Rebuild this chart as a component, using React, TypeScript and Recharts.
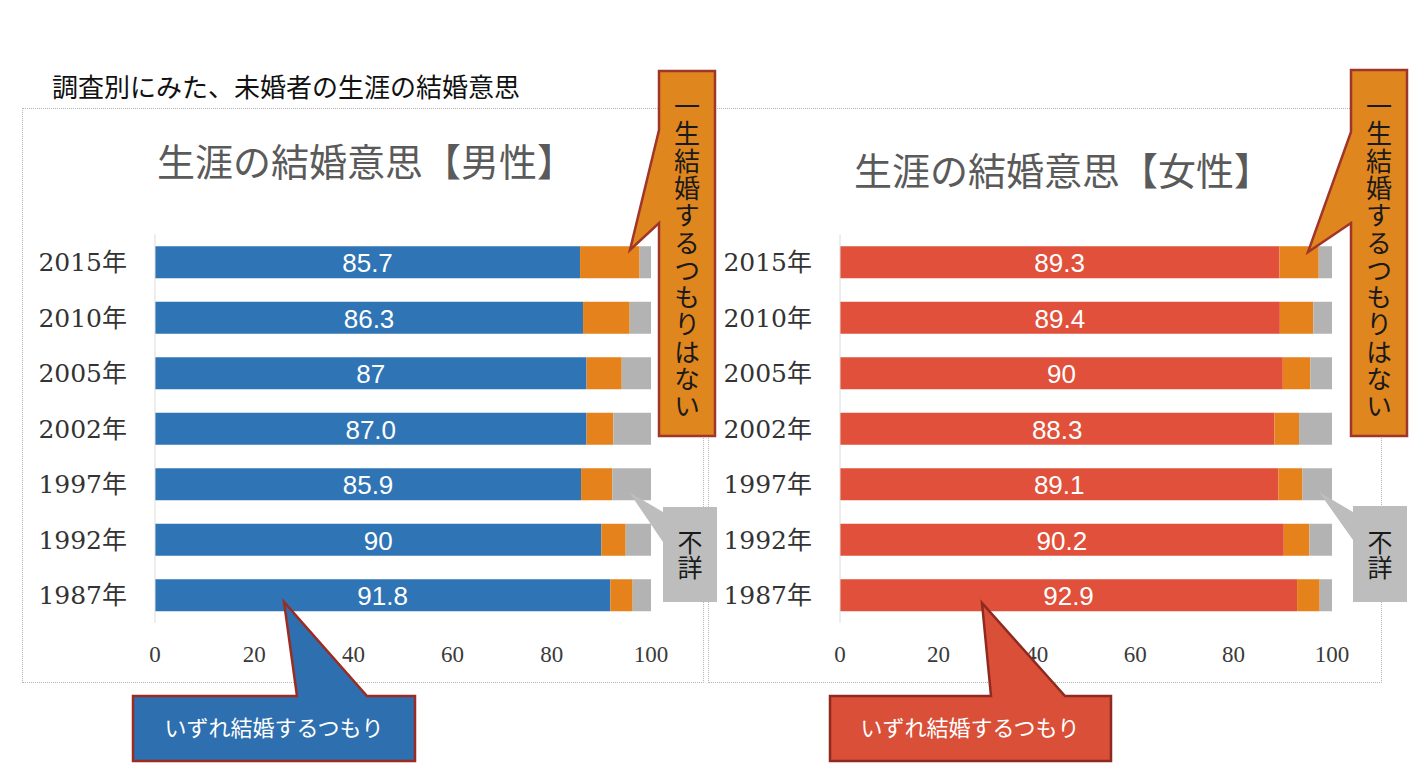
import React from 'react';
import { BarChart, Bar, XAxis, YAxis, LabelList } from 'recharts';

// ---- data ----
const years = ['2015年', '2010年', '2005年', '2002年', '1997年', '1992年', '1987年'];
const xTicks = [0, 20, 40, 60, 80, 100];

const maleWill = [85.7, 86.3, 87.0, 87.0, 85.9, 90.0, 91.8];
const maleNever = [12.0, 9.4, 7.1, 5.4, 6.3, 4.9, 4.5];
const maleUnknown = [2.3, 4.3, 5.9, 7.6, 7.8, 5.1, 3.7];
const maleLabels = ['85.7', '86.3', '87', '87.0', '85.9', '90', '91.8'];

const femaleWill = [89.3, 89.4, 90.0, 88.3, 89.1, 90.2, 92.9];
const femaleNever = [8.0, 6.8, 5.6, 5.0, 4.9, 5.2, 4.6];
const femaleUnknown = [2.7, 3.8, 4.4, 6.7, 6.0, 4.6, 2.5];
const femaleLabels = ['89.3', '89.4', '90', '88.3', '89.1', '90.2', '92.9'];

const mainTitle = '調査別にみた、未婚者の生涯の結婚意思';
const maleTitle = '生涯の結婚意思【男性】';
const femaleTitle = '生涯の結婚意思【女性】';
const neverText = '一生結婚するつもりはない';
const unknownText = '不詳';
const willText = 'いずれ結婚するつもり';

const buildRows = (will: number[], never: number[], unknown: number[], labels: string[]) =>
  years.map((year, i) => ({ year, will: will[i], never: never[i], unknown: unknown[i], label: labels[i] }));

const maleRows = buildRows(maleWill, maleNever, maleUnknown, maleLabels);
const femaleRows = buildRows(femaleWill, femaleNever, femaleUnknown, femaleLabels);

const BLUE = '#2F74B5';
const RED = '#E0503A';
const ORANGE = '#E5821C';
const GRAY = '#B3B3B3';
const CJK = "'Noto Sans CJK JP', 'Noto Sans', sans-serif";

const YTick = (props: any) => {
  const { x, y, payload } = props;
  return (
    <text x={x} y={y} dy={9} textAnchor="end" fill="#333" fontSize={25}
      fontFamily="'DejaVu Serif', 'Noto Sans CJK JP', serif">
      {payload.value}
    </text>
  );
};

const XTick = (props: any) => {
  const { x, y, payload } = props;
  return (
    <text x={x} y={y} dy={39} textAnchor="middle" fill="#3a3a3a" fontSize={23}
      fontFamily="'Liberation Serif', serif">
      {payload.value}
    </text>
  );
};

const BarLabel = (props: any) => {
  const { x, y, width, height, value } = props;
  return (
    <text x={x + width / 2} y={y + height / 2 + 10} textAnchor="middle" fill="#fff"
      fontSize={26} fontFamily="'Liberation Sans', Arial, sans-serif">
      {value}
    </text>
  );
};

const Panel = ({ rows, left, yAxisWidth, marginRight, mainColor }: any) => (
  <div style={{ position: 'absolute', left, top: 0 }}>
    <BarChart width={700} height={700} data={rows} layout="vertical"
      margin={{ top: 234.25, right: marginRight, bottom: 37.25, left: 0 }}>
      <XAxis type="number" domain={[0, 100]} ticks={xTicks} interval={0}
        axisLine={false} tickLine={false} tickSize={0} tickMargin={0} height={40} tick={<XTick />} />
      <YAxis type="category" dataKey="year" width={yAxisWidth} interval={0}
        axisLine={{ stroke: '#dcdcdc' }} tickLine={false} tickSize={0} tickMargin={28} tick={<YTick />} />
      <Bar dataKey="will" stackId="a" fill={mainColor} barSize={32} isAnimationActive={false}>
        <LabelList dataKey="label" content={<BarLabel />} isAnimationActive={false} />
      </Bar>
      <Bar dataKey="never" stackId="a" fill={ORANGE} barSize={32} isAnimationActive={false} />
      <Bar dataKey="unknown" stackId="a" fill={GRAY} barSize={32} isAnimationActive={false} />
    </BarChart>
  </div>
);

const VerticalText = ({ text, x, yMid, fs, spacing, fill }: any) => (
  <text x={x} y={yMid} textAnchor="middle" fontSize={fs} fill={fill} fontFamily={CJK}
    style={{ writingMode: 'vertical-rl', letterSpacing: spacing } as any}>
    {text}
  </text>
);

export default function App() {
  return (
    <div style={{ position: 'absolute', left: 0, top: 0, width: 1416, height: 776, background: '#fff', overflow: 'hidden', fontFamily: CJK }}>
      {/* panel frames */}
      <div style={{ position: 'absolute', left: 22, top: 108, width: 682, height: 575, border: '1px dotted #b5b5b5', boxSizing: 'border-box' }} />
      <div style={{ position: 'absolute', left: 708, top: 108, width: 674, height: 575, border: '1px dotted #b5b5b5', boxSizing: 'border-box' }} />

      <Panel rows={maleRows} left={0} yAxisWidth={155} marginRight={49} mainColor={BLUE} />
      <Panel rows={femaleRows} left={700} yAxisWidth={140} marginRight={68} mainColor={RED} />

      <svg width={1416} height={776} style={{ position: 'absolute', left: 0, top: 0, pointerEvents: 'none' }}>
        <text x={52} y={97} fontSize={26} fill="#111" fontFamily={CJK}>{mainTitle}</text>
        <text x={157} y={176} fontSize={38} fill="#5a5a5a" fontFamily={CJK}>{maleTitle}</text>
        <text x={854} y={185} fontSize={38} fill="#5a5a5a" fontFamily={CJK}>{femaleTitle}</text>

        {/* never callouts */}
        <polygon points="659,71 715,71 715,436 659,436 659,223 630,250 659,130"
          fill="#E0861E" stroke="#A0352A" strokeWidth={2.5} strokeLinejoin="miter" />
        <polygon points="1351,70 1407,70 1407,436 1351,436 1351,223 1308,252 1351,132"
          fill="#E0861E" stroke="#A0352A" strokeWidth={2.5} strokeLinejoin="miter" />
        <VerticalText text={neverText} x={687} yMid={257} fs={26} spacing={1.3} fill="#1a1a1a" />
        <VerticalText text={neverText} x={1379} yMid={257} fs={26} spacing={1.3} fill="#1a1a1a" />

        {/* unknown callouts */}
        <polygon points="663,507 717,507 717,602 663,602 663,542 629,492 663,512" fill="#BDBDBD" />
        <polygon points="1353,506 1407,506 1407,602 1353,602 1353,540 1319,492 1353,512" fill="#BDBDBD" />
        <VerticalText text={unknownText} x={690} yMid={555} fs={25} spacing={0} fill="#1a1a1a" />
        <VerticalText text={unknownText} x={1380} yMid={555} fs={25} spacing={0} fill="#1a1a1a" />

        {/* will callouts */}
        <polygon points="133,696 297,696 284,602 367,696 415,696 415,761 133,761"
          fill="#2E6FAF" stroke="#9C2B22" strokeWidth={2.5} />
        <polygon points="830,696 991,696 982,603 1065,696 1111,696 1111,761 830,761"
          fill="#D94F38" stroke="#8E2A20" strokeWidth={2.5} />
        <text x={274} y={736} textAnchor="middle" fontSize={22} fill="#fff" fontFamily={CJK}>{willText}</text>
        <text x={970} y={736} textAnchor="middle" fontSize={22} fill="#fff" fontFamily={CJK}>{willText}</text>
      </svg>
    </div>
  );
}
